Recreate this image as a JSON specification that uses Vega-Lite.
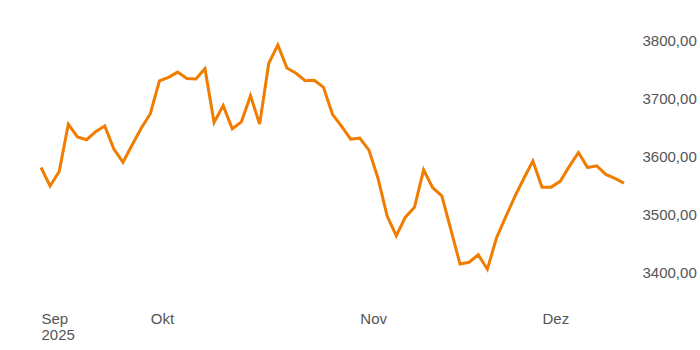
{
  "$schema": "https://vega.github.io/schema/vega-lite/v6.json",
  "width": 595,
  "height": 289,
  "autosize": "none",
  "padding": {"left": 41, "top": 12, "right": 64, "bottom": 49},
  "background": "white",
  "config": {"view": {"stroke": null}, "font": "Liberation Sans"},
  "data": {"values": [
    {"date": "2025-09-15", "close": 3581},
    {"date": "2025-09-16", "close": 3549},
    {"date": "2025-09-17", "close": 3574},
    {"date": "2025-09-18", "close": 3656},
    {"date": "2025-09-19", "close": 3634},
    {"date": "2025-09-22", "close": 3629},
    {"date": "2025-09-23", "close": 3643},
    {"date": "2025-09-24", "close": 3653},
    {"date": "2025-09-25", "close": 3613},
    {"date": "2025-09-26", "close": 3590},
    {"date": "2025-09-29", "close": 3620},
    {"date": "2025-09-30", "close": 3649},
    {"date": "2025-10-01", "close": 3674},
    {"date": "2025-10-02", "close": 3731},
    {"date": "2025-10-03", "close": 3737},
    {"date": "2025-10-06", "close": 3746},
    {"date": "2025-10-07", "close": 3735},
    {"date": "2025-10-08", "close": 3734},
    {"date": "2025-10-09", "close": 3752},
    {"date": "2025-10-10", "close": 3659},
    {"date": "2025-10-13", "close": 3688},
    {"date": "2025-10-14", "close": 3648},
    {"date": "2025-10-15", "close": 3660},
    {"date": "2025-10-16", "close": 3705},
    {"date": "2025-10-17", "close": 3656},
    {"date": "2025-10-20", "close": 3761},
    {"date": "2025-10-21", "close": 3793},
    {"date": "2025-10-22", "close": 3753},
    {"date": "2025-10-23", "close": 3744},
    {"date": "2025-10-24", "close": 3731},
    {"date": "2025-10-27", "close": 3732},
    {"date": "2025-10-28", "close": 3720},
    {"date": "2025-10-29", "close": 3673},
    {"date": "2025-10-30", "close": 3652},
    {"date": "2025-10-31", "close": 3630},
    {"date": "2025-11-03", "close": 3632},
    {"date": "2025-11-04", "close": 3611},
    {"date": "2025-11-05", "close": 3562},
    {"date": "2025-11-06", "close": 3497},
    {"date": "2025-11-07", "close": 3463},
    {"date": "2025-11-10", "close": 3495},
    {"date": "2025-11-11", "close": 3512},
    {"date": "2025-11-12", "close": 3577},
    {"date": "2025-11-13", "close": 3546},
    {"date": "2025-11-14", "close": 3532},
    {"date": "2025-11-17", "close": 3473},
    {"date": "2025-11-18", "close": 3414},
    {"date": "2025-11-19", "close": 3417},
    {"date": "2025-11-20", "close": 3430},
    {"date": "2025-11-21", "close": 3405},
    {"date": "2025-11-24", "close": 3459},
    {"date": "2025-11-25", "close": 3495},
    {"date": "2025-11-26", "close": 3530},
    {"date": "2025-11-27", "close": 3562},
    {"date": "2025-11-28", "close": 3592},
    {"date": "2025-12-01", "close": 3547},
    {"date": "2025-12-02", "close": 3547},
    {"date": "2025-12-03", "close": 3557},
    {"date": "2025-12-04", "close": 3583},
    {"date": "2025-12-05", "close": 3607},
    {"date": "2025-12-08", "close": 3581},
    {"date": "2025-12-09", "close": 3584},
    {"date": "2025-12-10", "close": 3569},
    {"date": "2025-12-11", "close": 3562},
    {"date": "2025-12-12", "close": 3554}
  ]},
  "mark": {"type": "line", "color": "#f07d00", "strokeWidth": 3},
  "encoding": {
    "x": {
      "field": "date",
      "type": "ordinal",
      "scale": {"type": "point", "range": [0, 583], "padding": 0},
      "axis": {
        "title": null,
        "values": ["2025-09-15", "2025-10-01", "2025-11-03", "2025-12-01"],
        "labelExpr": "datum.value == '2025-09-15' ? ['Sep', '2025'] : datum.value == '2025-10-01' ? 'Okt' : datum.value == '2025-11-03' ? 'Nov' : 'Dez'",
        "labelAngle": 0,
        "labelAlign": "left",
        "labelBaseline": "top",
        "labelPadding": 10,
        "labelFontSize": 15,
        "labelLineHeight": 16,
        "labelColor": "#555555",
        "labelOverlap": false,
        "domain": false,
        "ticks": false,
        "grid": false
      }
    },
    "y": {
      "field": "close",
      "type": "quantitative",
      "scale": {"domain": [3350, 3850], "nice": false, "zero": false},
      "axis": {
        "title": null,
        "orient": "right",
        "values": [3400, 3500, 3600, 3700, 3800],
        "labelExpr": "replace(format(datum.value, '.2f'), '.', ',')",
        "labelFontSize": 15,
        "labelColor": "#555555",
        "labelPadding": 6,
        "domain": false,
        "ticks": false,
        "grid": false
      }
    }
  }
}
